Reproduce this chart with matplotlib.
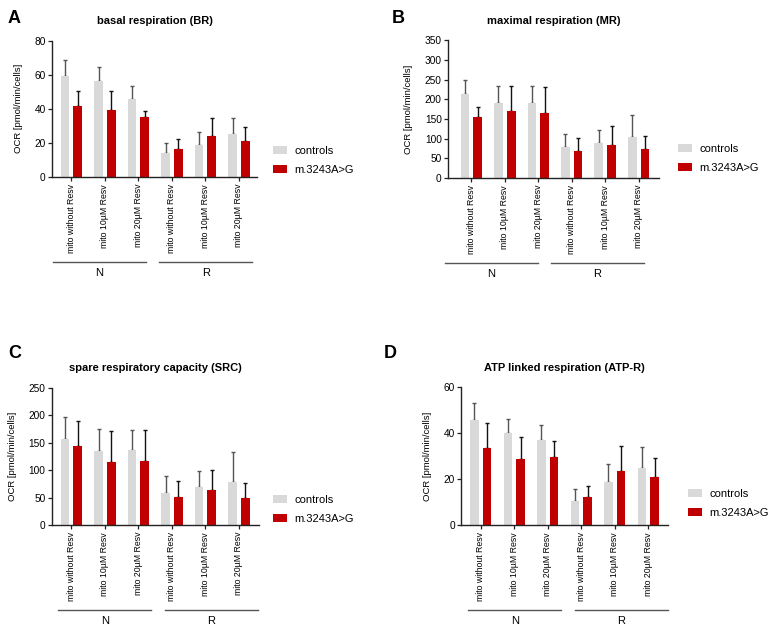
import matplotlib
matplotlib.use("Agg")
import matplotlib.pyplot as plt
from matplotlib.patches import Patch
import numpy as np

plt.rcParams['font.family'] = ['Liberation Sans', 'DejaVu Sans']

categories = ["mito without Resv", "mito 10µM Resv", "mito 20µM Resv",
              "mito without Resv", "mito 10µM Resv", "mito 20µM Resv"]
groups = ["N", "R"]
series_names = ["controls", "m.3243A>G"]

br_ctrl = [59.3, 56.2, 45.5, 14.2, 18.9, 25.0]
br_ctrl_err = [9.4, 8.6, 8.0, 5.7, 7.8, 9.5]
br_mut = [41.8, 39.2, 35.3, 16.6, 23.8, 21.1]
br_mut_err = [8.7, 11.3, 3.5, 5.6, 11.1, 8.2]

mr_ctrl = [212.7, 190.7, 190.7, 78.8, 88.0, 104.0]
mr_ctrl_err = [36.3, 44.0, 42.3, 33.9, 34.0, 56.2]
mr_mut = [154.0, 170.0, 165.0, 67.8, 83.0, 72.9]
mr_mut_err = [27.0, 64.7, 65.5, 33.0, 48.0, 33.1]

src_ctrl = [156.6, 134.7, 136.5, 57.6, 68.6, 78.9]
src_ctrl_err = [40.4, 40.1, 37.0, 31.0, 30.3, 53.4]
src_mut = [143.8, 115.3, 116.5, 50.4, 63.1, 48.5]
src_mut_err = [46.2, 55.7, 55.8, 29.1, 37.6, 27.3]

atp_ctrl = [45.8, 40.3, 37.2, 10.6, 18.8, 24.8]
atp_ctrl_err = [7.2, 5.8, 6.3, 5.1, 8.0, 9.4]
atp_mut = [33.6, 28.8, 29.6, 12.5, 23.8, 21.0]
atp_mut_err = [10.7, 9.5, 7.2, 4.7, 10.8, 8.1]

W, H = 777, 638
fig = plt.figure(figsize=(W / 100, H / 100), dpi=100)

GRAY = "#d9d9d9"
RED = "#c00000"

panels = [
    dict(letter="A", title="basal respiration (BR)", ctrl=br_ctrl, ce=br_ctrl_err, mut=br_mut, me=br_mut_err,
         box=(52, 40.7, 257, 177), ylim=(0, 80), yticks=[0, 20, 40, 60, 80], xlim=(-0.58, 5.54),
         lines_start=-0.55, letter_xy=(8, 23), leg=(273, 146)),
    dict(letter="B", title="maximal respiration (MR)", ctrl=mr_ctrl, ce=mr_ctrl_err, mut=mr_mut, me=mr_mut_err,
         box=(448, 40.3, 659, 178), ylim=(0, 350), yticks=list(range(0, 351, 50)), xlim=(-0.70, 5.61),
         lines_start=-0.79, letter_xy=(392, 23), leg=(678, 144)),
    dict(letter="C", title="spare respiratory capacity (SRC)", ctrl=src_ctrl, ce=src_ctrl_err, mut=src_mut, me=src_mut_err,
         box=(51.7, 387.7, 259, 525), ylim=(0, 250), yticks=list(range(0, 251, 50)), xlim=(-0.59, 5.6),
         lines_start=-0.39, letter_xy=(8, 358), leg=(273, 495)),
    dict(letter="D", title="ATP linked respiration (ATP-R)", ctrl=atp_ctrl, ce=atp_ctrl_err, mut=atp_mut, me=atp_mut_err,
         box=(461, 387.3, 668, 525.3), ylim=(0, 60), yticks=[0, 20, 40, 60], xlim=(-0.59, 5.59),
         lines_start=-0.37, letter_xy=(384, 358), leg=(688, 489)),
]

x = np.arange(len(categories))
bw = 0.26
off = 0.19

for p in panels:
    l, t, r, b = p["box"]
    ax = fig.add_axes([l / W, 1 - b / H, (r - l) / W, (b - t) / H])
    ax.bar(x - off, p["ctrl"], bw, color=GRAY, zorder=2)
    ax.bar(x + off, p["mut"], bw, color=RED, zorder=2)
    ax.errorbar(x - off, p["ctrl"], yerr=[np.zeros(6), p["ce"]], fmt="none", ecolor="#555555",
                elinewidth=1.0, capsize=1.6, capthick=1.0, zorder=1)
    ax.errorbar(x + off, p["mut"], yerr=[np.zeros(6), p["me"]], fmt="none", ecolor="#111111",
                elinewidth=1.0, capsize=1.6, capthick=1.0, zorder=1)
    ax.set_xlim(*p["xlim"])
    ax.set_ylim(*p["ylim"])
    ax.set_yticks(p["yticks"])
    ax.set_xticks(x)
    ax.set_xticklabels(categories, rotation=90, fontsize=6.3)
    ax.tick_params(axis="y", labelsize=7.3, length=3, width=0.9, pad=1.5, color="#222222")
    ax.tick_params(axis="x", length=3, width=0.9, pad=2, color="#222222")
    for s in ["top", "right"]:
        ax.spines[s].set_visible(False)
    for s in ["left", "bottom"]:
        ax.spines[s].set_linewidth(1.0)
        ax.spines[s].set_color("#222222")
    ax.set_ylabel("OCR [pmol/min/cells]", fontsize=6.8, labelpad=8.5)
    ax.set_title(p["title"], fontsize=8, fontweight="bold", pad=12)
    fig.text(p["letter_xy"][0] / W, 1 - p["letter_xy"][1] / H, p["letter"], fontsize=13,
             fontweight="bold", ha="left", va="baseline")
    # group lines
    trans = ax.get_xaxis_transform()
    axh = b - t
    ly = -(85) / axh
    ty = -(96) / axh
    s0 = p["lines_start"]
    for gi, g in enumerate(groups):
        xs = s0 + gi * 3.17
        xe = xs + 2.78
        ax.plot([xs, xe], [ly, ly], color="#555555", lw=1.0, transform=trans, clip_on=False)
        ax.text((xs + xe) / 2, ty, g, transform=trans, ha="center", va="center", fontsize=8)
    # legend
    handles = [Patch(facecolor=GRAY, edgecolor="none"), Patch(facecolor=RED, edgecolor="none")]
    lx, lyp = p["leg"]
    fig.legend(handles, series_names, loc="upper left",
               bbox_to_anchor=(lx / W, 1 - lyp / H), frameon=False, fontsize=8,
               handlelength=1.3, handleheight=0.7, handletextpad=0.6, labelspacing=0.8,
               borderpad=0, borderaxespad=0)

fig.savefig("out.png", dpi=100)
